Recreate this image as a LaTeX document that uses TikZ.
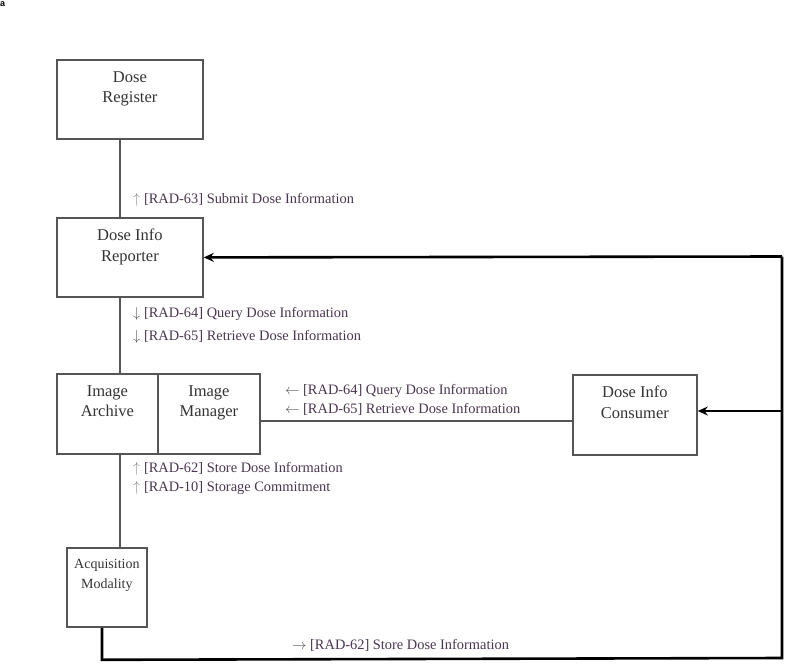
\documentclass[tikz,border=0pt]{standalone}
\usepackage{fontspec}
\setmainfont{Liberation Serif}
\newfontfamily\tagfont{Liberation Sans}
\usetikzlibrary{arrows.meta,calc}
\definecolor{boxline}{HTML}{555555}
\definecolor{boxtxt}{HTML}{333333}
\definecolor{lbl}{HTML}{4A3550}
\definecolor{arr}{HTML}{888888}
\begin{document}
\begin{tikzpicture}[x=1pt,y=-1pt,
  box/.style={draw=boxline,line width=1.8pt,rectangle,inner sep=0pt,anchor=north west},
  boxtext/.style={text=boxtxt,font=\fontsize{16.5}{20.5}\selectfont,align=center,anchor=north,inner sep=0pt},
  conn/.style={draw=boxline,line width=1.5pt},
  bus/.style={draw=black,line width=2.6pt},
  busarrow/.style={bus,-{Stealth[length=10pt,width=9pt]}},
  lab/.style={text=lbl,font=\fontsize{14.4}{19}\selectfont,anchor=west,inner sep=0pt,align=left}]
\useasboundingbox (0,0) rectangle (800,671);
\node[font=\tagfont\bfseries\fontsize{9}{10}\selectfont,anchor=north west,inner sep=0pt] (tag) at (0,1) {a};
% boxes
\node[box,minimum width=146pt,minimum height=79pt] (reg) at (56,59) {};
\node[boxtext] (regt) at ($(reg.north)+(0,12)$) {Dose\\Register};
\node[box,minimum width=146pt,minimum height=79pt] (rep) at (56,217) {};
\node[boxtext] (rept) at ($(rep.north)+(0,12)$) {Dose Info\\Reporter};
\node[box,minimum width=101pt,minimum height=80pt] (arc) at (56,373) {};
\node[boxtext] (arct) at ($(arc.north)+(0,12)$) {Image\\Archive};
\node[box,minimum width=102pt,minimum height=80pt] (mgr) at (157,373) {};
\node[boxtext] (mgrt) at ($(mgr.north)+(0,12)$) {Image\\Manager};
\node[box,minimum width=124pt,minimum height=80pt] (con) at (572,374) {};
\node[boxtext] (cont) at ($(con.north)+(0,12)$) {Dose Info\\Consumer};
\node[box,minimum width=80pt,minimum height=79pt] (acq) at (66,547) {};
\node[boxtext,font=\fontsize{14}{20.5}\selectfont] (acqt) at ($(acq.north)+(0,12)$) {Acquisition\\Modality};
% thin connectors
\draw[conn] ([xshift=64pt]reg.south west) -- ([xshift=64pt]rep.north west);
\draw[conn] ([xshift=64pt]rep.south west) -- ([xshift=64pt]arc.north west);
\draw[conn] ([xshift=64pt]arc.south west) -- ([xshift=54pt]acq.north west);
\draw[conn] ([yshift=-7pt]mgr.east) -- ([yshift=-6pt]con.west);
% thick bus
\coordinate (bt) at (782,256.5);
\coordinate (bm) at (782,411);
\coordinate (bb) at (782,658);
\coordinate (ab) at ($(acq.south west)+(36,32)$);
\draw[bus] ([xshift=36pt]acq.south west) -- (ab) -- (bb) -- (bt);
\draw[busarrow] (bt) -- (rep.east);
\draw[busarrow] (bm) -- (con.east |- bm);
% labels
\node[lab] (l1) at (133,200) {\textcolor{arr}{$\uparrow$} [RAD-63] Submit Dose Information};
\node[lab,font=\fontsize{14.4}{23}\selectfont] (l2) at (133,325.5) {\textcolor{boxline}{$\downarrow$} [RAD-64] Query Dose Information\\\textcolor{boxline}{$\downarrow$} [RAD-65] Retrieve Dose Information};
\node[lab] (l3) at (285,400) {\textcolor{boxline}{$\leftarrow$} [RAD-64] Query Dose Information\\\textcolor{boxline}{$\leftarrow$} [RAD-65] Retrieve Dose Information};
\node[lab] (l4) at (133,478) {\textcolor{arr}{$\uparrow$} [RAD-62] Store Dose Information\\\textcolor{arr}{$\uparrow$} [RAD-10] Storage Commitment};
\node[lab] (l5) at (292,645) {\textcolor{boxline}{$\rightarrow$} [RAD-62] Store Dose Information};
\end{tikzpicture}
\end{document}
